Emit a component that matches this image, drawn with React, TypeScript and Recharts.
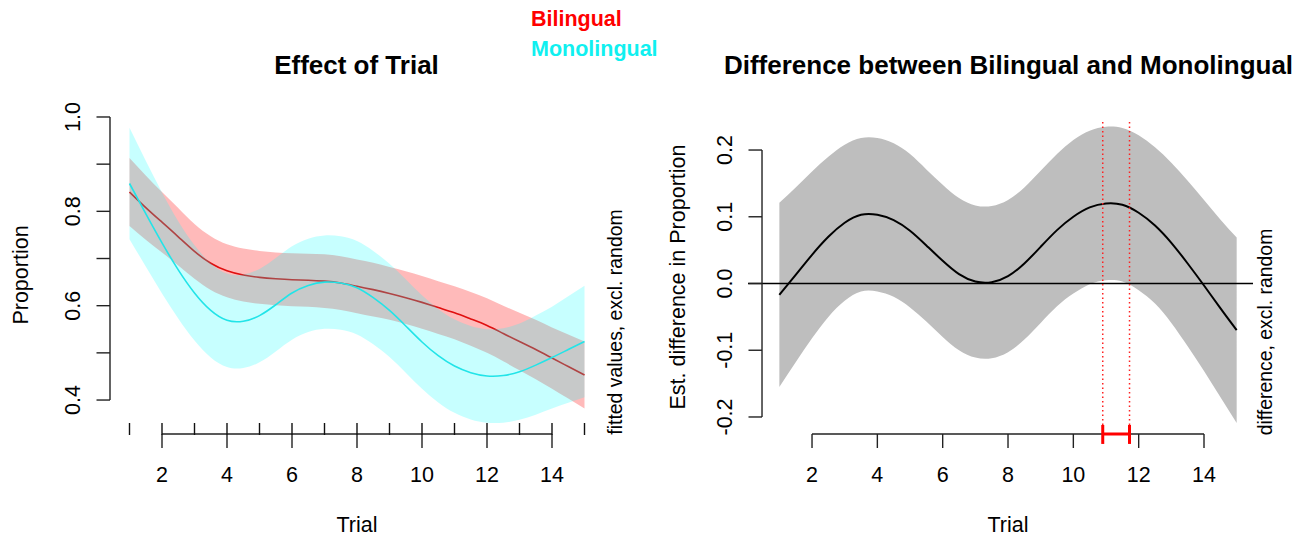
import React from 'react';
import { ComposedChart, Area, Line, XAxis, YAxis, ReferenceLine } from 'recharts';

// ---- data ----
const trials = [1, 1.5, 2, 2.5, 3, 3.5, 4, 4.5, 5, 5.5, 6, 6.5, 7, 7.5, 8, 8.5, 9, 9.5, 10, 10.5, 11, 11.5, 12, 12.5, 13, 13.5, 14, 14.5, 15];

const bilingualFit = [0.841, 0.808, 0.777, 0.746, 0.715, 0.69, 0.674, 0.665, 0.66, 0.657, 0.655, 0.654, 0.652, 0.648, 0.641, 0.634, 0.626, 0.617, 0.607, 0.596, 0.585, 0.572, 0.558, 0.541, 0.524, 0.507, 0.489, 0.471, 0.453];
const bilingualHalfCI = [0.072, 0.068, 0.064, 0.061, 0.058, 0.057, 0.056, 0.056, 0.056, 0.056, 0.056, 0.056, 0.057, 0.057, 0.057, 0.057, 0.056, 0.056, 0.056, 0.056, 0.056, 0.057, 0.058, 0.059, 0.061, 0.063, 0.065, 0.068, 0.071];

const monolingualFit = [0.859, 0.795, 0.733, 0.676, 0.627, 0.59, 0.569, 0.567, 0.579, 0.602, 0.627, 0.643, 0.65, 0.648, 0.638, 0.617, 0.59, 0.557, 0.523, 0.494, 0.472, 0.458, 0.451, 0.452, 0.46, 0.474, 0.49, 0.507, 0.524];
const monolingualHalfCI = [0.118, 0.112, 0.107, 0.103, 0.101, 0.1, 0.099, 0.099, 0.099, 0.099, 0.099, 0.099, 0.099, 0.099, 0.099, 0.099, 0.099, 0.099, 0.099, 0.099, 0.099, 0.099, 0.099, 0.1, 0.102, 0.105, 0.108, 0.113, 0.118];

const differenceFit = [-0.017, 0.013, 0.043, 0.07, 0.091, 0.103, 0.103, 0.095, 0.079, 0.057, 0.034, 0.014, 0.003, 0.002, 0.011, 0.03, 0.055, 0.08, 0.1, 0.114, 0.12, 0.118, 0.106, 0.087, 0.061, 0.03, -0.003, -0.037, -0.07];
const differenceHalfCI = [0.138, 0.131, 0.125, 0.12, 0.117, 0.115, 0.115, 0.115, 0.115, 0.114, 0.114, 0.114, 0.114, 0.114, 0.114, 0.114, 0.114, 0.114, 0.115, 0.115, 0.115, 0.115, 0.116, 0.117, 0.12, 0.124, 0.128, 0.133, 0.139];

const rugTrials = [1, 2, 3, 4, 5, 6, 7, 8, 9, 10, 11, 12, 13, 14, 15];
const xTickLabels = [2, 4, 6, 8, 10, 12, 14];
const leftYTicks = [0.4, 0.5, 0.6, 0.7, 0.8, 0.9, 1.0];
const leftYLabels = [0.4, 0.6, 0.8, 1.0];
const rightYTicks = [-0.2, -0.1, 0, 0.1, 0.2];
const sigStart = 10.9;
const sigEnd = 11.72;

// ---- tables ----
const leftData = trials.map((t, i) => ({
  t,
  bi: bilingualFit[i],
  biBand: [bilingualFit[i] - bilingualHalfCI[i], bilingualFit[i] + bilingualHalfCI[i]],
  mono: monolingualFit[i],
  monoBand: [monolingualFit[i] - monolingualHalfCI[i], monolingualFit[i] + monolingualHalfCI[i]],
}));
const rightData = trials.map((t, i) => ({
  t,
  diff: differenceFit[i],
  diffBand: [differenceFit[i] - differenceHalfCI[i], differenceFit[i] + differenceHalfCI[i]],
}));

// ---- layout ----
const W = 1306;
const H = 536;
const FONT = '"Liberation Sans", Arial, Helvetica, sans-serif';
const AX = '#222';
const AXW = 1.4;
const CURVE = 'natural';
const LEFT_X_DOMAIN: [number, number] = [0.4, 15.6];
const LEFT_Y_DOMAIN: [number, number] = [0.328, 1.036];
const RIGHT_X_DOMAIN: [number, number] = [0.04, 15.5];
const RIGHT_Y_DOMAIN: [number, number] = [-0.2255, 0.242];
const RIGHT_AXIS_X = 0.469;

const makeXTick = (withRug: boolean) => (props: any) => {
  const { x, y, payload } = props;
  const v = payload.value;
  const labeled = xTickLabels.includes(v);
  return (
    <g>
      {withRug && <line x1={x} x2={x} y1={y - 11} y2={y + 1} stroke="#111" strokeWidth={1.4} />}
      {labeled && <line x1={x} x2={x} y1={y} y2={y + 14} stroke={AX} strokeWidth={AXW} />}
      {labeled && (
        <text x={x} y={y + 47.5} textAnchor="middle" fontSize={21.5} fontFamily={FONT} fill="#000">
          {v}
        </text>
      )}
    </g>
  );
};

const makeYTick = (labels: number[] | null, axisOffset: number) => (props: any) => {
  const { x, y, payload } = props;
  const v = payload.value;
  const ax = x + axisOffset;
  const show = labels === null || labels.some((l) => Math.abs(l - v) < 1e-9);
  const bx = ax - 30;
  return (
    <g>
      <line x1={ax - 13.5} x2={ax} y1={y} y2={y} stroke={AX} strokeWidth={AXW} />
      {show && (
        <text
          x={bx}
          y={y}
          transform={`rotate(-90, ${bx}, ${y})`}
          textAnchor="middle"
          fontSize={21.5}
          fontFamily={FONT}
          fill="#000"
        >
          {v.toFixed(1)}
        </text>
      )}
    </g>
  );
};

const RotText = ({ x, y, size, children }: any) => (
  <text
    x={x}
    y={y}
    transform={`rotate(-90, ${x}, ${y})`}
    textAnchor="middle"
    fontSize={size}
    fontFamily={FONT}
    fill="#000"
  >
    {children}
  </text>
);

const layer: React.CSSProperties = { position: 'absolute', left: 0, top: 0 };

export default function App() {
  return (
    <div style={{ position: 'absolute', left: 0, top: 0, width: W, height: H, background: '#fff', fontFamily: FONT }}>
      {/* Left panel: axes + Bilingual */}
      <div style={layer}>
        <ComposedChart width={W} height={H} data={leftData} margin={{ top: 100, right: 702, bottom: 0, left: 50 }}>
          <XAxis
            dataKey="t"
            type="number"
            domain={LEFT_X_DOMAIN}
            allowDataOverflow
            ticks={rugTrials}
            interval={0}
            tickSize={0}
            tickMargin={0}
            axisLine={false}
            tickLine={false}
            height={102}
            tick={makeXTick(true)}
          />
          <YAxis
            type="number"
            domain={LEFT_Y_DOMAIN}
            allowDataOverflow
            ticks={leftYTicks}
            interval={0}
            width={60}
            tickSize={0}
            tickMargin={0}
            axisLine={false}
            tickLine={false}
            tick={makeYTick(leftYLabels, 0)}
          />
          <Area dataKey="biBand" type={CURVE} stroke="none" fill="#ff0000" fillOpacity={0.27} isAnimationActive={false} />
          <Line dataKey="bi" type={CURVE} stroke="#e01010" strokeWidth={1.6} dot={false} isAnimationActive={false} />
          <ReferenceLine
            segment={[{ x: LEFT_X_DOMAIN[0], y: leftYTicks[0] }, { x: LEFT_X_DOMAIN[0], y: leftYTicks[leftYTicks.length - 1] }]}
            stroke={AX}
            strokeWidth={AXW}
            ifOverflow="visible"
          />
          <ReferenceLine
            segment={[{ x: xTickLabels[0], y: LEFT_Y_DOMAIN[0] }, { x: xTickLabels[xTickLabels.length - 1], y: LEFT_Y_DOMAIN[0] }]}
            stroke={AX}
            strokeWidth={AXW}
            ifOverflow="visible"
          />
        </ComposedChart>
      </div>

      {/* Left panel: Monolingual layer on top (as in the original drawing order) */}
      <div style={layer}>
        <ComposedChart width={W} height={H} data={leftData} margin={{ top: 100, right: 702, bottom: 102, left: 110 }}>
          <XAxis dataKey="t" type="number" domain={LEFT_X_DOMAIN} allowDataOverflow hide />
          <YAxis type="number" domain={LEFT_Y_DOMAIN} allowDataOverflow hide />
          <Area dataKey="monoBand" type={CURVE} stroke="none" fill="#00ffff" fillOpacity={0.22} isAnimationActive={false} />
          <Line dataKey="mono" type={CURVE} stroke="#22e4e8" strokeWidth={1.6} dot={false} isAnimationActive={false} />
        </ComposedChart>
      </div>

      {/* Right panel */}
      <div style={layer}>
        <ComposedChart width={W} height={H} data={rightData} margin={{ top: 122, right: 53, bottom: 0, left: 688 }}>
          <XAxis
            dataKey="t"
            type="number"
            domain={RIGHT_X_DOMAIN}
            allowDataOverflow
            ticks={xTickLabels}
            interval={0}
            tickSize={0}
            tickMargin={0}
            axisLine={false}
            tickLine={false}
            height={102}
            tick={makeXTick(false)}
          />
          <YAxis
            type="number"
            domain={RIGHT_Y_DOMAIN}
            allowDataOverflow
            ticks={rightYTicks}
            interval={0}
            width={60}
            tickSize={0}
            tickMargin={0}
            axisLine={false}
            tickLine={false}
            tick={makeYTick(null, 14)}
          />
          <Area dataKey="diffBand" type={CURVE} stroke="none" fill="#bebebe" fillOpacity={1} isAnimationActive={false} />
          <Line dataKey="diff" type={CURVE} stroke="#000" strokeWidth={2} dot={false} isAnimationActive={false} />
          <ReferenceLine y={0} stroke="#000" strokeWidth={1.6} ifOverflow="visible" />
          <ReferenceLine x={sigStart} stroke="#ff2020" strokeWidth={1.5} strokeDasharray="1.5 3" />
          <ReferenceLine x={sigEnd} stroke="#ff2020" strokeWidth={1.5} strokeDasharray="1.5 3" />
          <ReferenceLine
            segment={[{ x: RIGHT_AXIS_X, y: rightYTicks[0] }, { x: RIGHT_AXIS_X, y: rightYTicks[rightYTicks.length - 1] }]}
            stroke={AX}
            strokeWidth={AXW}
            ifOverflow="visible"
          />
          <ReferenceLine
            segment={[{ x: xTickLabels[0], y: RIGHT_Y_DOMAIN[0] }, { x: xTickLabels[xTickLabels.length - 1], y: RIGHT_Y_DOMAIN[0] }]}
            stroke={AX}
            strokeWidth={AXW}
            ifOverflow="visible"
          />
          <ReferenceLine
            segment={[{ x: sigStart, y: RIGHT_Y_DOMAIN[0] }, { x: sigEnd, y: RIGHT_Y_DOMAIN[0] }]}
            stroke="#ff0000"
            strokeWidth={3}
            ifOverflow="visible"
          />
          <ReferenceLine
            segment={[{ x: sigStart, y: -0.212 }, { x: sigStart, y: -0.2404 }]}
            stroke="#ff0000"
            strokeWidth={3}
            ifOverflow="visible"
          />
          <ReferenceLine
            segment={[{ x: sigEnd, y: -0.212 }, { x: sigEnd, y: -0.2404 }]}
            stroke="#ff0000"
            strokeWidth={3}
            ifOverflow="visible"
          />
        </ComposedChart>
      </div>

      {/* Text overlay */}
      <svg width={W} height={H} style={{ position: 'absolute', left: 0, top: 0, pointerEvents: 'none' }}>
        <text x={356.5} y={73.5} textAnchor="middle" fontSize={26} fontWeight="bold" fontFamily={FONT} fill="#000">
          Effect of Trial
        </text>
        <text x={1008.5} y={73.5} textAnchor="middle" fontSize={26} fontWeight="bold" fontFamily={FONT} fill="#000">
          Difference between Bilingual and Monolingual
        </text>
        <text x={531} y={26} fontSize={21.5} fontWeight="bold" fontFamily={FONT} fill="#ff0000">
          Bilingual
        </text>
        <text x={531} y={56} fontSize={21.5} fontWeight="bold" fontFamily={FONT} fill="#10f0f0">
          Monolingual
        </text>
        <RotText x={28} y={275} size={21.5}>Proportion</RotText>
        <RotText x={684.5} y={277} size={21.5}>Est. difference in Proportion</RotText>
        <RotText x={622} y={322} size={19.4}>fitted values, excl. random</RotText>
        <RotText x={1272} y={332} size={19.4}>difference, excl. random</RotText>
        <text x={357} y={532} textAnchor="middle" fontSize={21.5} fontFamily={FONT} fill="#000">
          Trial
        </text>
        <text x={1008} y={532} textAnchor="middle" fontSize={21.5} fontFamily={FONT} fill="#000">
          Trial
        </text>
      </svg>
    </div>
  );
}
